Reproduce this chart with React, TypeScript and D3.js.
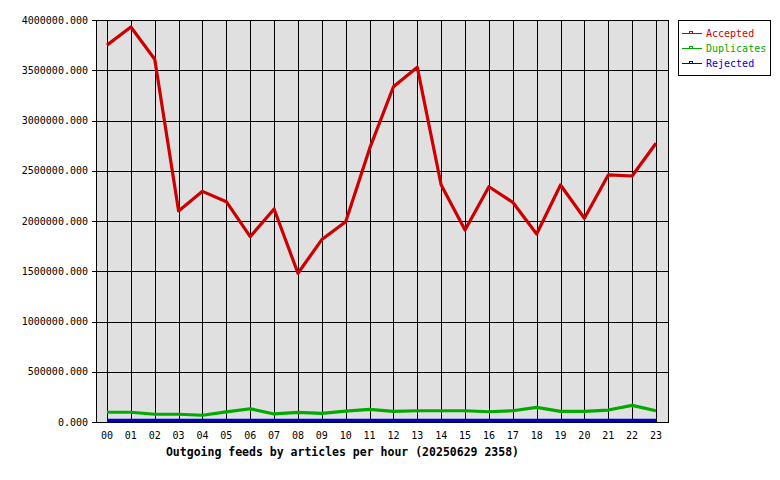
import React, { useEffect, useRef } from "react";
import * as d3 from "d3";

const hours = [
  "00", "01", "02", "03", "04", "05", "06", "07", "08", "09", "10", "11",
  "12", "13", "14", "15", "16", "17", "18", "19", "20", "21", "22", "23",
];

const accepted = [
  3750000, 3930000, 3610000, 2100000, 2295000, 2192000, 1844000, 2119000,
  1480000, 1815000, 1993000, 2720000, 3336000, 3529000, 2358000, 1910000,
  2341000, 2186000, 1871000, 2358000, 2027000, 2458000, 2448000, 2773000,
];

const duplicates = [
  97000, 97000, 77000, 77000, 67000, 100000, 132000, 80000,
  95000, 85000, 109000, 126000, 106000, 112000, 112000, 112000,
  102000, 112000, 146000, 106000, 106000, 119000, 166000, 112000,
];

const rejected = [
  16000, 16000, 16000, 16000, 16000, 16000, 16000, 16000,
  16000, 16000, 16000, 16000, 16000, 16000, 16000, 16000,
  16000, 16000, 16000, 16000, 16000, 16000, 16000, 16000,
];

const yTicks = [0, 500000, 1000000, 1500000, 2000000, 2500000, 3000000, 3500000, 4000000];

const seriesNames = ["Accepted", "Duplicates", "Rejected"];
const seriesColors = ["#cc0000", "#00aa00", "#0000cc"];

const title = "Outgoing feeds by articles per hour (20250629 2358)";

const W = 780;
const H = 480;
const plot = { left: 96, right: 668, top: 20, bottom: 422 };
const mono = "'DejaVu Sans Mono', 'Liberation Mono', monospace";

const App = () => {
  const ref = useRef<SVGSVGElement>(null);

  useEffect(() => {
    const svg = d3.select(ref.current);
    svg.selectAll("*").remove();

    // hours sit on points, with a half step of room at the left and right
    const x = d3.scalePoint<string>().domain(hours).range([107, 656]);
    const cx = (h: string) => x(h) as number;
    const y = d3.scaleLinear().domain([0, 4000000]).range([plot.bottom, plot.top]);

    // plot background
    svg.append("rect")
      .attr("x", plot.left)
      .attr("y", plot.top)
      .attr("width", plot.right - plot.left)
      .attr("height", plot.bottom - plot.top)
      .attr("fill", "#e0e0e0");

    const grid = svg.append("g")
      .attr("stroke", "#000")
      .attr("stroke-width", 1)
      .attr("shape-rendering", "crispEdges");

    grid.selectAll("line.v")
      .data(hours)
      .join("line")
      .attr("class", "v")
      .attr("x1", (d) => Math.round(cx(d)) + 0.5)
      .attr("x2", (d) => Math.round(cx(d)) + 0.5)
      .attr("y1", plot.top)
      .attr("y2", plot.bottom);

    grid.selectAll("line.h")
      .data(yTicks)
      .join("line")
      .attr("class", "h")
      .attr("x1", plot.left - 4)
      .attr("x2", plot.right)
      .attr("y1", (d) => Math.round(y(d)) + 0.5)
      .attr("y2", (d) => Math.round(y(d)) + 0.5);

    // frame
    grid.append("rect")
      .attr("x", plot.left + 0.5)
      .attr("y", plot.top + 0.5)
      .attr("width", plot.right - plot.left)
      .attr("height", plot.bottom - plot.top)
      .attr("fill", "none");

    // y tick labels
    svg.append("g")
      .selectAll("text")
      .data(yTicks)
      .join("text")
      .attr("x", 88)
      .attr("y", (d) => y(d) + 3.5)
      .attr("text-anchor", "end")
      .attr("font-family", mono)
      .attr("font-size", 10)
      .attr("fill", "#000")
      .text((d) => d.toFixed(3));

    // x tick labels
    svg.append("g")
      .selectAll("text")
      .data(hours)
      .join("text")
      .attr("x", (d) => cx(d))
      .attr("y", 439)
      .attr("text-anchor", "middle")
      .attr("font-family", mono)
      .attr("font-size", 10)
      .attr("fill", "#000")
      .text((d) => d);

    // series lines, drawn back to front so red sits on top
    const all = [accepted, duplicates, rejected];
    const line = d3.line<number>()
      .x((_, i) => cx(hours[i]))
      .y((d) => y(d));

    [2, 1, 0].forEach((s) => {
      svg.append("path")
        .datum(all[s])
        .attr("fill", "none")
        .attr("stroke", seriesColors[s])
        .attr("stroke-width", s === 2 ? 3.5 : 3.2)
        .attr("stroke-linejoin", "round")
        .attr("d", line);
    });

    // title
    svg.append("text")
      .attr("x", 342.5)
      .attr("y", 456)
      .attr("text-anchor", "middle")
      .attr("font-family", mono)
      .attr("font-weight", "bold")
      .attr("font-size", 11.5)
      .attr("fill", "#000")
      .text(title);

    // legend
    const lg = svg.append("g");
    lg.append("rect")
      .attr("x", 678.5)
      .attr("y", 20.5)
      .attr("width", 92)
      .attr("height", 55)
      .attr("fill", "#fff")
      .attr("stroke", "#000")
      .attr("shape-rendering", "crispEdges");

    seriesNames.forEach((name, i) => {
      const ly = 33.5 + i * 15;
      lg.append("line")
        .attr("x1", 682)
        .attr("x2", 702)
        .attr("y1", ly)
        .attr("y2", ly)
        .attr("stroke", seriesColors[i])
        .attr("shape-rendering", "crispEdges");
      lg.append("rect")
        .attr("x", 689.5)
        .attr("y", ly - 2)
        .attr("width", 3)
        .attr("height", 2)
        .attr("fill", "none")
        .attr("stroke", seriesColors[i])
        .attr("shape-rendering", "crispEdges");
      lg.append("text")
        .attr("x", 706)
        .attr("y", ly + 3)
        .attr("font-family", mono)
        .attr("font-size", 10)
        .attr("fill", seriesColors[i])
        .text(name);
    });
  }, []);

  return (
    <svg
      ref={ref}
      width={W}
      height={H}
      style={{ position: "absolute", left: 0, top: 0, background: "#fff" }}
    />
  );
};

export default App;
